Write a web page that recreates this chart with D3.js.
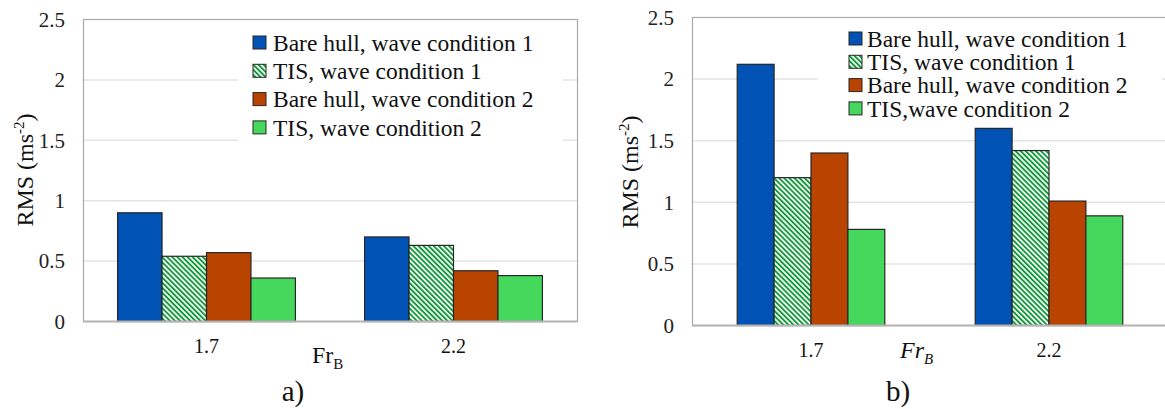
<!DOCTYPE html>
<html><head><meta charset="utf-8">
<script src="https://cdn.jsdelivr.net/npm/d3@7"></script>
</head><body style="margin:0;background:#fff"><svg id="c" width="1165" height="409" font-family="Liberation Serif" style="display:block"></svg>
<script>
const categories = ["1.7", "2.2"];
const seriesA = ["Bare hull, wave condition 1", "TIS, wave condition 1", "Bare hull, wave condition 2", "TIS, wave condition 2"];
const seriesB = ["Bare hull, wave condition 1", "TIS, wave condition 1", "Bare hull, wave condition 2", "TIS,wave condition 2"];
const valuesA = [[0.90, 0.54, 0.57, 0.36], [0.70, 0.63, 0.42, 0.38]];
const valuesB = [[2.12, 1.20, 1.40, 0.78], [1.60, 1.42, 1.01, 0.89]];
const yTicks = [0, 0.5, 1, 1.5, 2, 2.5];
const colors = ["#0052b4", "url(#hatch)", "#b94400", "#45d85c"];
const FONT = "Liberation Serif";

const svg = d3.select("#c");
const defs = svg.append("defs");
const pat = defs.append("pattern").attr("id", "hatch").attr("patternUnits", "userSpaceOnUse")
  .attr("width", 3.6).attr("height", 3.6).attr("patternTransform", "rotate(-45)");
pat.append("rect").attr("width", 3.6).attr("height", 3.6).attr("fill", "#fff");
pat.append("rect").attr("width", 1.9).attr("height", 3.6).attr("fill", "#129a3a");

function txt(sel) { return sel.attr("font-family", FONT).attr("fill", "#111"); }

function chart(cfg) {
  const g = svg.append("g");
  const y = d3.scaleLinear().domain([0, 2.5]).range([cfg.bottom, cfg.top]);
  const x0 = d3.scaleBand().domain(categories).range([cfg.left, cfg.right])
    .paddingInner(cfg.pin).paddingOuter(cfg.pin / 2);
  const x1 = d3.scaleBand().domain(d3.range(4)).range([0, x0.bandwidth()]);
  g.append("rect").attr("x", cfg.left + 0.5).attr("y", cfg.top)
    .attr("width", cfg.right - cfg.left).attr("height", cfg.bottom - cfg.top)
    .attr("fill", "none").attr("stroke", "#a8a8a8").attr("stroke-width", 1.2);
  g.append("g").selectAll("line").data(yTicks.filter(t => t > 0 && t < 2.5)).join("line")
    .attr("x1", cfg.left + 1).attr("x2", cfg.right)
    .attr("y1", d => y(d)).attr("y2", d => y(d))
    .attr("stroke", "#e3e3e3").attr("stroke-width", 1.5);
  const ya = g.append("g").attr("transform", `translate(${cfg.left},0)`)
    .call(d3.axisLeft(y).tickValues(yTicks).tickSize(0).tickPadding(cfg.tickPad).tickFormat(d => String(d)));
  ya.select(".domain").remove();
  txt(ya.selectAll("text")).attr("font-size", 21).attr("fill", "#222");
  g.append("rect").attr("x", cfg.legX - cfg.legPad).attr("y", cfg.legY - 18)
    .attr("width", cfg.legW).attr("height", cfg.legRow * 4 + 10).attr("fill", "#fff");
  const grp = g.append("g").selectAll("g").data(categories).join("g")
    .attr("transform", d => `translate(${x0(d)},0)`);
  grp.selectAll("rect").data((d, i) => cfg.values[i].map((v, j) => ({ v, j }))).join("rect")
    .attr("x", d => x1(d.j)).attr("width", x1.bandwidth())
    .attr("y", d => y(d.v)).attr("height", d => y(0) - y(d.v))
    .attr("fill", d => colors[d.j]).attr("stroke", "#262626").attr("stroke-width", 1.2);
  g.append("line").attr("x1", cfg.left).attr("x2", cfg.right)
    .attr("y1", cfg.bottom).attr("y2", cfg.bottom).attr("stroke", "#b5b5b5").attr("stroke-width", 2);
  txt(g.append("g").selectAll("text").data(categories).join("text"))
    .attr("x", d => x0(d) + x0.bandwidth() / 2).attr("y", cfg.xlabY)
    .attr("text-anchor", "middle").attr("font-size", 20).text(d => d);
  const xt = txt(g.append("text")).attr("x", cfg.xtX).attr("y", cfg.xtY)
    .attr("text-anchor", "start").attr("font-size", 24).attr("font-style", cfg.italic ? "italic" : "normal");
  xt.append("tspan").text("Fr");
  xt.append("tspan").attr("font-size", 15).attr("dy", 6).text("B");
  const yt = txt(g.append("text")).attr("transform", `translate(${cfg.ytX},${cfg.ytY}) rotate(-90)`)
    .attr("text-anchor", "middle").attr("font-size", 24);
  yt.append("tspan").text("RMS (ms");
  yt.append("tspan").attr("font-size", 15).attr("dy", -9).text("-2");
  yt.append("tspan").attr("dy", 9).text(")");
  const lg = g.append("g").selectAll("g").data(cfg.series).join("g")
    .attr("transform", (d, i) => `translate(${cfg.legX},${cfg.legY + i * cfg.legRow})`);
  lg.append("rect").attr("x", 0).attr("y", -6.5).attr("width", 13).attr("height", 13)
    .attr("fill", (d, i) => colors[i]).attr("stroke", "#262626").attr("stroke-width", 1);
  txt(lg.append("text")).attr("x", cfg.legTx).attr("y", 8.2).attr("font-size", 23.5).text(d => d);
  txt(g.append("text")).attr("x", cfg.capX).attr("y", 401).attr("text-anchor", "middle")
    .attr("font-size", 29).text(cfg.caption);
}

chart({ left: 83, right: 577, top: 19.5, bottom: 321.5, pin: 0.28, values: valuesA, series: seriesA,
  tickPad: 18, legX: 253, legY: 42.5, legRow: 28.3, legTx: 20, legPad: 15, legW: 325, xlabY: 353, xtX: 312, xtY: 363,
  italic: false, ytX: 33, ytY: 170, capX: 293, caption: "a)" });
chart({ left: 692, right: 1168, top: 17.5, bottom: 325.5, pin: 0.38, values: valuesB, series: seriesB,
  tickPad: 18, legX: 849, legY: 38.5, legRow: 23.3, legTx: 18, legPad: 31, legW: 344, xlabY: 357, xtX: 900, xtY: 358,
  italic: true, ytX: 638, ytY: 172, capX: 898, caption: "b)" });
</script></body></html>
